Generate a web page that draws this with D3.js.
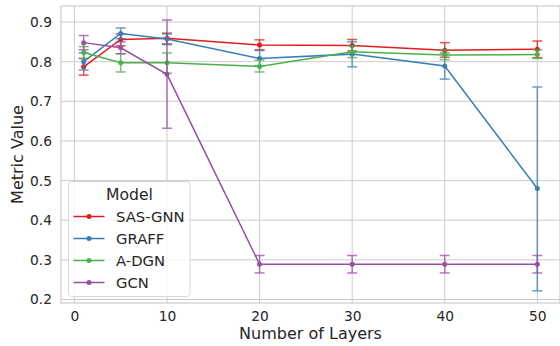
<!DOCTYPE html>
<html>
<head>
<meta charset="utf-8">
<script src="https://cdn.jsdelivr.net/npm/d3@7"></script>
<style>
  html, body { margin: 0; padding: 0; background: #fff; }
  svg { display: block; font-family: "DejaVu Sans", sans-serif; }
</style>
</head>
<body>
<svg id="chart" width="560" height="346"></svg>
<script>
// Layer counts on the x axis
const layers = [1, 5, 10, 20, 30, 40, 50];

// Mean metric per model, with lower / upper error bounds
const sasGnn     = [0.787, 0.856, 0.859, 0.842, 0.841, 0.829, 0.831];
const sasGnnLo   = [0.766, 0.840, 0.845, 0.830, 0.827, 0.811, 0.810];
const sasGnnHi   = [0.808, 0.870, 0.872, 0.855, 0.856, 0.848, 0.852];

const graff      = [0.800, 0.871, 0.857, 0.808, 0.819, 0.789, 0.480];
const graffLo    = [0.779, 0.858, 0.843, 0.790, 0.787, 0.756, 0.222];
const graffHi    = [0.822, 0.885, 0.870, 0.828, 0.850, 0.822, 0.736];

const aDgn       = [0.823, 0.797, 0.797, 0.788, 0.825, 0.817, 0.818];
const aDgnLo     = [0.808, 0.774, 0.771, 0.774, 0.810, 0.805, 0.808];
const aDgnHi     = [0.838, 0.820, 0.822, 0.804, 0.840, 0.830, 0.830];

const gcn        = [0.848, 0.835, 0.768, 0.289, 0.289, 0.289, 0.289];
const gcnLo      = [0.830, 0.820, 0.632, 0.267, 0.267, 0.267, 0.267];
const gcnHi      = [0.866, 0.850, 0.905, 0.311, 0.311, 0.311, 0.311];

const modelNames  = ["SAS-GNN", "GRAFF", "A-DGN", "GCN"];
const modelColors = ["#e41a1c", "#377eb8", "#4daf4a", "#984ea3"];

const xTicks = [0, 10, 20, 30, 40, 50];
const yTicks = [0.2, 0.3, 0.4, 0.5, 0.6, 0.7, 0.8, 0.9];

const series = [
  { name: modelNames[0], color: modelColors[0], mean: sasGnn, lo: sasGnnLo, hi: sasGnnHi },
  { name: modelNames[1], color: modelColors[1], mean: graff,  lo: graffLo,  hi: graffHi },
  { name: modelNames[2], color: modelColors[2], mean: aDgn,   lo: aDgnLo,   hi: aDgnHi },
  { name: modelNames[3], color: modelColors[3], mean: gcn,    lo: gcnLo,    hi: gcnHi }
];

const svg = d3.select("#chart");
const plot = { left: 61, right: 560, top: 6, bottom: 303 };

const x = d3.scaleLinear().domain([-1.45, 52.45]).range([plot.left, plot.right]);
const y = d3.scaleLinear().domain([0.1912, 0.9404]).range([plot.bottom, plot.top]);

const gridColor = "#cccccc";
const textColor = "#262626";

// grid
const grid = svg.append("g");
grid.selectAll("line.gx").data(xTicks).join("line")
  .attr("x1", d => x(d)).attr("x2", d => x(d))
  .attr("y1", plot.top).attr("y2", plot.bottom)
  .attr("stroke", gridColor).attr("stroke-width", 1);
grid.selectAll("line.gy").data(yTicks).join("line")
  .attr("x1", plot.left).attr("x2", plot.right)
  .attr("y1", d => y(d)).attr("y2", d => y(d))
  .attr("stroke", gridColor).attr("stroke-width", 1);

// frame
svg.append("rect")
  .attr("x", plot.left).attr("y", plot.top)
  .attr("width", plot.right - plot.left).attr("height", plot.bottom - plot.top)
  .attr("fill", "none").attr("stroke", gridColor).attr("stroke-width", 1.2);

// axes
const xAxis = d3.axisBottom(x).tickValues(xTicks).tickSize(0).tickPadding(8).tickFormat(d3.format("d"));
const yAxis = d3.axisLeft(y).tickValues(yTicks).tickSize(0).tickPadding(9).tickFormat(d3.format(".1f"));

const gx = svg.append("g").attr("transform", `translate(0,${plot.bottom})`).call(xAxis);
const gy = svg.append("g").attr("transform", `translate(${plot.left},0)`).call(yAxis);
[gx, gy].forEach(g => {
  g.select(".domain").remove();
  g.selectAll("text").attr("fill", textColor).style("font-size", "13.8px")
    .style("font-family", "'DejaVu Sans', sans-serif");
});

svg.append("text")
  .attr("x", (plot.left + plot.right) / 2).attr("y", 339)
  .attr("text-anchor", "middle").attr("fill", textColor)
  .style("font-size", "16px").text("Number of Layers");

svg.append("text")
  .attr("transform", `translate(23,${(plot.top + plot.bottom) / 2}) rotate(-90)`)
  .attr("text-anchor", "middle").attr("fill", textColor)
  .style("font-size", "16px").text("Metric Value");

// series
const line = d3.line().x(d => x(d.x)).y(d => y(d.v));
const capHalf = 5;

series.forEach(s => {
  const pts = layers.map((l, i) => ({ x: l, v: s.mean[i], lo: s.lo[i], hi: s.hi[i] }));
  const g = svg.append("g");

  g.append("path").datum(pts)
    .attr("d", line).attr("fill", "none")
    .attr("stroke", s.color).attr("stroke-width", 1.5);

  const eb = g.selectAll("g.eb").data(pts).join("g").attr("opacity", 0.75);
  eb.append("line")
    .attr("x1", d => x(d.x)).attr("x2", d => x(d.x))
    .attr("y1", d => y(d.lo)).attr("y2", d => y(d.hi))
    .attr("stroke", s.color).attr("stroke-width", 1.5);
  ["lo", "hi"].forEach(k => {
    eb.append("line")
      .attr("x1", d => x(d.x) - capHalf).attr("x2", d => x(d.x) + capHalf)
      .attr("y1", d => y(d[k])).attr("y2", d => y(d[k]))
      .attr("stroke", s.color).attr("stroke-width", 1.5);
  });

  g.selectAll("circle").data(pts).join("circle")
    .attr("cx", d => x(d.x)).attr("cy", d => y(d.v))
    .attr("r", 2.5).attr("fill", s.color);
});

// legend
const legend = svg.append("g");
legend.append("rect")
  .attr("x", 68.5).attr("y", 181.5).attr("width", 121.5).attr("height", 115).attr("rx", 3)
  .attr("fill", "#ffffff").attr("fill-opacity", 0.8)
  .attr("stroke", "#d8d8d8").attr("stroke-width", 1);
legend.append("text")
  .attr("x", 129.5).attr("y", 200).attr("text-anchor", "middle")
  .attr("fill", textColor).style("font-size", "15.6px").text("Model");

const entry = legend.selectAll("g.entry").data(series).join("g")
  .attr("transform", (d, i) => `translate(0,${216.5 + i * 22})`);
entry.append("line")
  .attr("x1", 73.5).attr("x2", 104.5).attr("y1", 0).attr("y2", 0)
  .attr("stroke", d => d.color).attr("stroke-width", 1.5);
entry.append("circle").attr("cx", 89).attr("cy", 0).attr("r", 2.5).attr("fill", d => d.color);
entry.append("text")
  .attr("x", 116).attr("y", 5.3).attr("fill", textColor)
  .style("font-size", "14.8px").text(d => d.name);
</script>
</body>
</html>
